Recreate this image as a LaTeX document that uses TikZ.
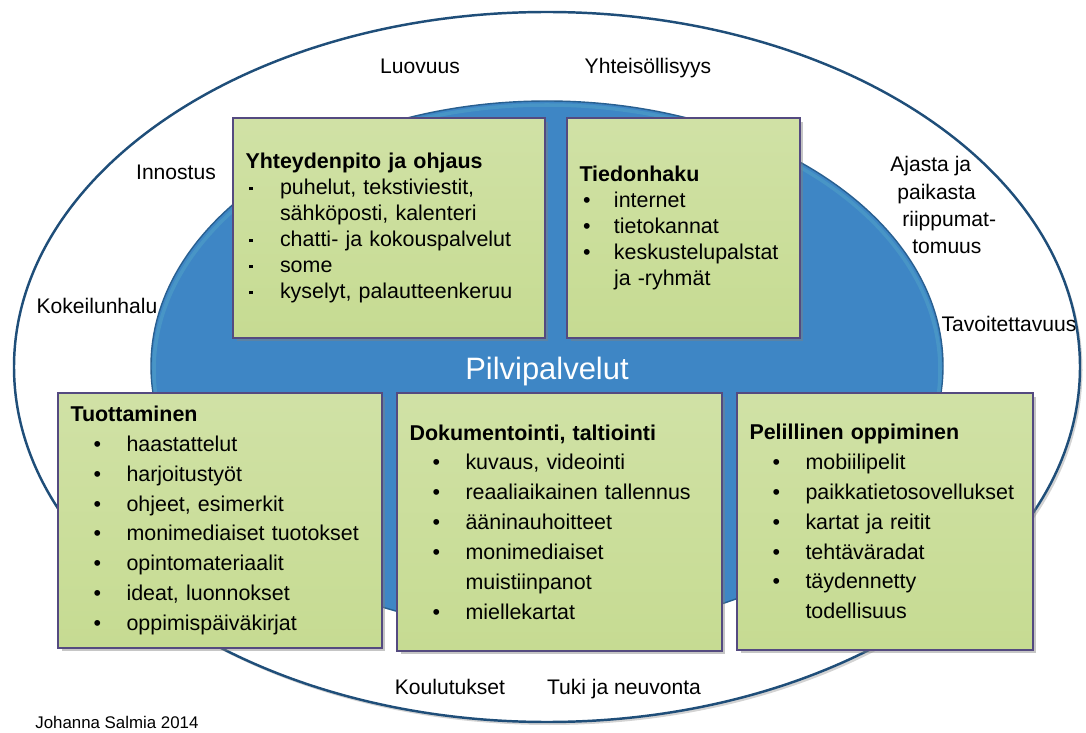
\documentclass[tikz,border=0pt]{standalone}
\usepackage{fontspec}
\setmainfont{Liberation Sans}
\usetikzlibrary{shadows, positioning}

\definecolor{cardgreen}{RGB}{198,219,146}
\definecolor{cardedge}{RGB}{84,74,128}
\definecolor{cloudblue}{RGB}{62,134,197}
\definecolor{rimblue}{RGB}{31,78,121}

% bullet lines inside the boxes
\newcommand{\tinybul}{\raisebox{0.4ex}{\rule{0.07cm}{0.07cm}}}
\newcommand{\upbul}[2][\textbullet]{\hspace*{0.07cm}\makebox[0.62cm][l]{#1}#2}
\newcommand{\upcont}[1]{\hspace*{0.69cm}#1}
\newcommand{\lowbul}[1]{\hspace*{0.46cm}\makebox[0.66cm][l]{\textbullet}#1}
\newcommand{\lowcont}[1]{\hspace*{1.12cm}#1}

\begin{document}
\begin{tikzpicture}[x=0.02cm, y=-0.02cm,
    card/.style={draw=cardedge, line width=1.1pt, top color=cardgreen!82!white, bottom color=cardgreen,
        drop shadow={shadow xshift=0.07cm, shadow yshift=-0.07cm, opacity=0.45},
        align=left, inner xsep=0.25cm, font=\fontsize{12.2}{14.8}\selectfont},
    lowcard/.style={card, font=\fontsize{12.2}{17}\selectfont},
    ringlabel/.style={inner sep=0pt, font=\fontsize{12}{15.4}\selectfont},
    oneline/.style={ringlabel, text height=0.75em, text depth=0.2em}]
    \useasboundingbox (0,0) rectangle (1086,733);

    % outer ring
    \draw[rimblue, line width=1.4pt, fill=white,
        drop shadow={shadow xshift=0.05cm, shadow yshift=-0.06cm, opacity=0.35}]
        (547,367) ellipse [x radius=533, y radius=355];

    % cloud services
    \draw[rimblue!70!cloudblue, line width=0.8pt, fill=cloudblue]
        (547,366) ellipse [x radius=396, y radius=265];
    \begin{scope}
        \clip (547,366) ellipse [x radius=396, y radius=265];
        \draw[cyan!35!cloudblue, line width=2pt] (547,370) ellipse [x radius=393, y radius=265];
    \end{scope}
    \node[text=white, font=\fontsize{17.6}{20}\selectfont] (pilvi) at (547,372) {Pilvipalvelut};

    % values around the cloud
    \node[oneline] (luovuus) at (420,69) {Luovuus};
    \node[oneline] (yhteis) at (648,69) {Yhteisöllisyys};
    \node[oneline] (innostus) at (176,175) {Innostus};
    \node[oneline] (kokeilu) at (97,309) {Kokeilunhalu};
    \node[ringlabel, align=left, anchor=west] (ajasta) at (890,205) {Ajasta ja\\
        \hspace*{0.14cm}paikasta\\\hspace*{0.24cm}riippumat-\\\hspace*{0.44cm}tomuus};
    \node[oneline] (tavoite) at (1009,327) {Tavoitettavuus};
    \node[oneline] (koulutus) at (450,690) {Koulutukset};
    \node[oneline] (tuki) at (624,690) {Tuki ja neuvonta};

    % upper boxes
    \node[card, text width=5.74cm, minimum height=4.4cm] (yhteys) at (389,228) {%
        \textbf{Yhteydenpito ja ohjaus}\\
        \upbul[\tinybul]{puhelut, tekstiviestit,}\\
        \upcont{sähköposti, kalenteri}\\
        \upbul[\tinybul]{chatti- ja kokouspalvelut}\\
        \upbul[\tinybul]{some}\\
        \upbul[\tinybul]{kyselyt, palautteenkeruu}};
    \node[card, text width=4.16cm, minimum height=4.4cm] (haku) at (683.5,228) {%
        \textbf{Tiedonhaku}\\
        \upbul{internet}\\
        \upbul{tietokannat}\\
        \upbul{keskustelupalstat}\\
        \upcont{ja -ryhmät}};

    % lower boxes
    \node[lowcard, text width=5.98cm, minimum height=5.1cm] (tuotto) at (220,520.5) {%
        \textbf{Tuottaminen}\\
        \lowbul{haastattelut}\\
        \lowbul{harjoitustyöt}\\
        \lowbul{ohjeet, esimerkit}\\
        \lowbul{monimediaiset tuotokset}\\
        \lowbul{opintomateriaalit}\\
        \lowbul{ideat, luonnokset}\\
        \lowbul{oppimispäiväkirjat}};
    \node[lowcard, text width=6cm, minimum height=5.16cm] (dokum) at (559.5,522) {%
        \textbf{Dokumentointi, taltiointi}\\
        \lowbul{kuvaus, videointi}\\
        \lowbul{reaaliaikainen tallennus}\\
        \lowbul{ääninauhoitteet}\\
        \lowbul{monimediaiset}\\
        \lowcont{muistiinpanot}\\
        \lowbul{miellekartat}};
    \node[lowcard, text width=5.42cm, minimum height=5.14cm] (peli) at (885,521.5) {%
        \textbf{Pelillinen oppiminen}\\
        \lowbul{mobiilipelit}\\
        \lowbul{paikkatietosovellukset}\\
        \lowbul{kartat ja reitit}\\
        \lowbul{tehtäväradat}\\
        \lowbul{täydennetty}\\
        \lowcont{todellisuus}};

    \node[anchor=west, inner sep=0pt, font=\fontsize{9.6}{11}\selectfont] (tekija) at (35,722) {Johanna Salmia 2014};
\end{tikzpicture}
\end{document}
